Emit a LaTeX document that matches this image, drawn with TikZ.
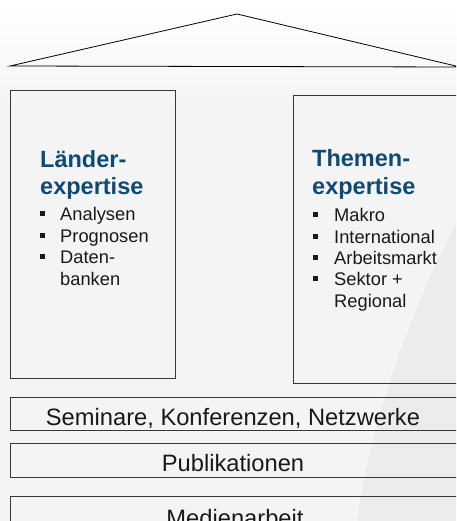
\documentclass[tikz,border=0pt]{standalone}
\usepackage{fontspec}
\setmainfont{Liberation Sans}
\definecolor{headblue}{RGB}{14,74,118}
\definecolor{bgray}{RGB}{244,244,244}
\definecolor{bdark}{RGB}{236,236,236}
\definecolor{boxline}{RGB}{55,55,55}
\begin{document}
\begin{tikzpicture}[x=1pt,y=-1pt,
  frame/.style={draw=boxline,line width=0.9pt,inner sep=0pt},
  heading/.style={font=\fontsize{23.5}{27}\selectfont\bfseries,text=headblue,anchor=base west,inner sep=0pt},
  item/.style={font=\fontsize{18.3}{21}\selectfont,text=black!90,anchor=base west,inner sep=0pt},
  bul/.style={fill=black!90,minimum size=4.6pt,inner sep=0pt},
  bartext/.style={font=\fontsize{23.7}{27}\selectfont,text=black!90,anchor=base,inner sep=0pt}]
\useasboundingbox (0,0) rectangle (456,521);
\clip (0,0) rectangle (456,521);
% background
\fill[bgray] (0,0) rectangle (456,521);
\shade[top color=white,bottom color=bgray] (0,0) rectangle (456,110);
\fill[bdark] (456,220) .. controls (405,320) and (368,430) .. (356,521) -- (456,521) -- cycle;
\draw[white,line width=1.5pt,opacity=0.5] (456,220) .. controls (405,320) and (368,430) .. (356,521);
% roof
\coordinate (apex) at (237,14);
\coordinate (roofL) at (10,66);
\coordinate (roofR) at (460,67);
\draw[black,line width=0.8pt] (roofL) -- (apex) -- (roofR) -- cycle;
% pillars
\draw[frame] (10,90) rectangle (175,378);
\draw[frame] (293,95) rectangle (470,383);
% left pillar text
\node[heading] (lh1) at (40,168) {Länder-};
\node[heading] (lh2) at (40,195) {expertise};
\node[item] (l1) at (60,220) {Analysen};
\node[item] (l2) at (60,242) {Prognosen};
\node[item] (l3) at (60,263) {Daten-};
\node[item] (l4) at (60,285) {banken};
\node[bul] (lb1) at (42.5,213.5) {};
\node[bul] (lb2) at (42.5,235.5) {};
\node[bul] (lb3) at (42.5,256.5) {};
% right pillar text
\node[heading] (rh1) at (312,167) {Themen-};
\node[heading] (rh2) at (312,195) {expertise};
\node[item] (r1) at (334,221) {Makro};
\node[item] (r2) at (334,243) {International};
\node[item] (r3) at (334,264) {Arbeitsmarkt};
\node[item] (r4) at (334,285) {Sektor +};
\node[item] (r5) at (334,307) {Regional};
\node[bul] (rb1) at (315.5,214.5) {};
\node[bul] (rb2) at (315.5,236.5) {};
\node[bul] (rb3) at (315.5,257.5) {};
\node[bul] (rb4) at (315.5,278.5) {};
% bars
\draw[frame] (10,397) rectangle (470,430);
\draw[frame] (10,443) rectangle (470,477);
\draw[frame] (10,496) rectangle (470,540);
\node[bartext] (t1) at (233,425.5) {Seminare, Konferenzen, Netzwerke};
\node[bartext] (t2) at (233,471.5) {Publikationen};
\node[bartext] (t3) at (235,526) {Medienarbeit};
\end{tikzpicture}
\end{document}
